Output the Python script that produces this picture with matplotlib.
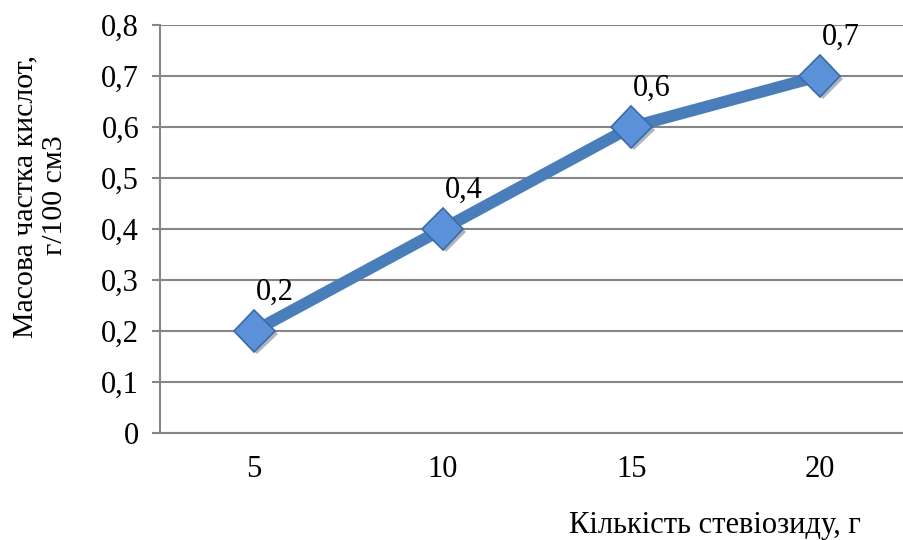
import matplotlib.pyplot as plt
import matplotlib.patheffects as pe

plt.rcParams['font.family'] = ['Liberation Serif', 'DejaVu Serif']

# stevioside amount (g) vs acid mass fraction
amounts = ['5', '10', '15', '20']
acids = [0.2, 0.4, 0.6, 0.7]
y_ticks = [0, 0.1, 0.2, 0.3, 0.4, 0.5, 0.6, 0.7, 0.8]

grid_col = '#868686'
line_col = '#4a7ebb'

fig = plt.figure(figsize=(9.04, 5.4), dpi=100)
ax = fig.add_axes([160 / 904, 107 / 540, 754 / 904, 408 / 540])

x = range(len(amounts))
ax.plot(x, acids, color=line_col, lw=8.5, solid_capstyle='round', zorder=3)
ax.plot(x, acids, ls='none', marker='D', ms=21, mfc='#5b91d8', mec='#3b6aa6', mew=1.2,
        zorder=4, path_effects=[pe.SimplePatchShadow(offset=(2, -2), alpha=0.35), pe.Normal()])

for xi, v in zip(x, acids):
    ax.annotate(f'{v:.1f}'.replace('.', ','), (xi, v), xytext=(15, 28), textcoords='offset points',
                ha='center', va='center', fontsize=22, zorder=5)

ax.set_xlim(-0.5, len(amounts) - 0.5)
ax.set_ylim(0, 0.8)
ax.set_xticks(list(x))
ax.set_xticklabels(amounts)
ax.set_yticks(y_ticks)
ax.set_yticklabels([f'{t:.1f}'.replace('.', ',') if t else '0' for t in y_ticks])

for t in y_ticks:
    ax.axhline(t, color=grid_col, lw=1.5, zorder=1)

for s in ['top', 'right']:
    ax.spines[s].set_visible(False)
ax.spines['left'].set_color(grid_col)
ax.spines['left'].set_linewidth(1.5)
ax.spines['bottom'].set_color(grid_col)
ax.spines['bottom'].set_linewidth(1.5)
ax.tick_params(axis='y', length=6, width=1.5, color=grid_col, labelsize=22, pad=9)
ax.tick_params(axis='x', length=0, labelsize=22, pad=16)

fig.text(25 / 904, 1 - 197 / 540, 'Масова частка кислот,', rotation=90, ha='center', va='center',
         fontsize=21.5)
fig.text(55 / 904, 1 - 195 / 540, 'г/100 см3', rotation=90, ha='center', va='center',
         fontsize=21.5)
fig.text(715 / 904, 1 - 525 / 540, 'Кількість стевіозиду, г', ha='center', va='center', fontsize=22)

fig.savefig('out.png', dpi=100)
